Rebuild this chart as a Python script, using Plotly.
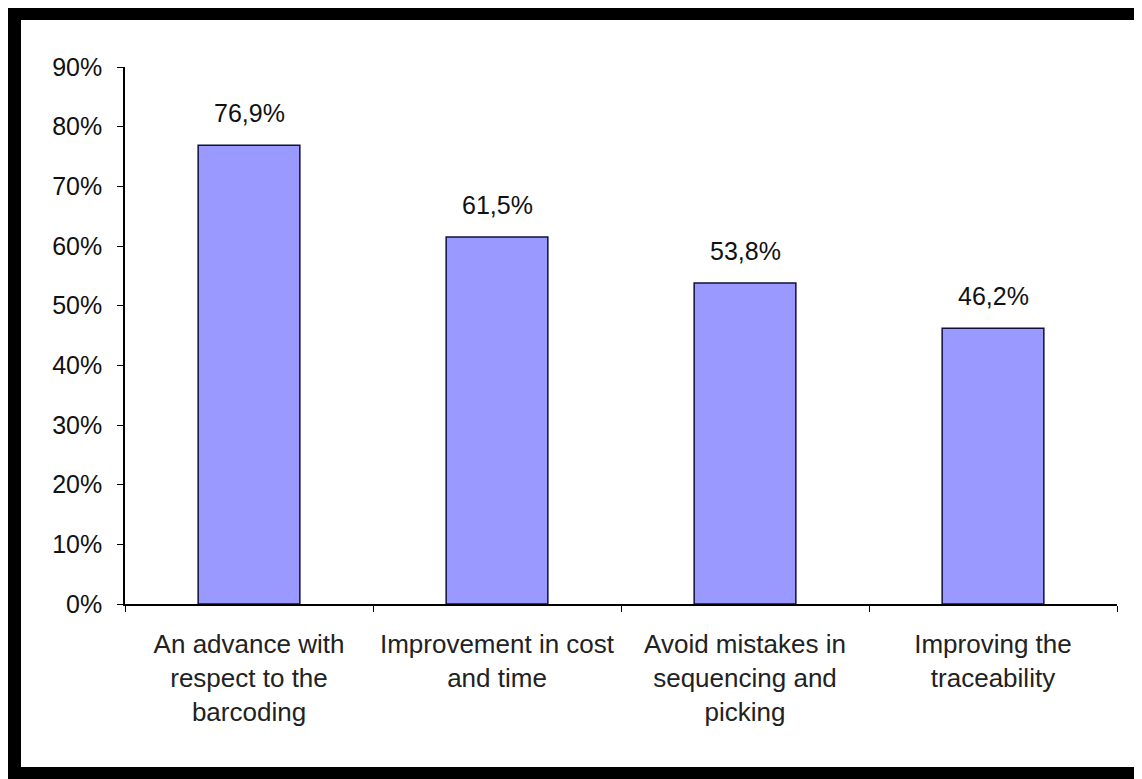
import plotly.graph_objects as go

categories = [
    "An advance with<br>respect to the<br>barcoding",
    "Improvement in cost<br>and time",
    "Avoid mistakes in<br>sequencing and<br>picking",
    "Improving the<br>traceability",
]
values = [76.9, 61.5, 53.8, 46.2]
labels = [f"{v:.1f}%".replace(".", ",") for v in values]

# page is rendered with an 8px body margin; work in page pixels and convert
OFF = 8
W, H = 1142 - OFF, 779 - OFF
L, R, T = 125 - OFF, 1142 - 1117, 67 - OFF
B = H - (604 - OFF)
PW, PH = W - L - R, H - T - B

def px(x):
    return (x - OFF - L) / PW

def py(y):
    return (H - B - (y - OFF)) / PH

FONT = "Liberation Sans, Arial, sans-serif"

fig = go.Figure()
fig.add_trace(go.Bar(
    x=categories, y=values,
    marker=dict(color="#9999FF", line=dict(color="#10103a", width=1.5)),
    width=0.41,
))

for c, v, t in zip(categories, values, labels):
    fig.add_annotation(x=c, y=v, text=t, showarrow=False, yanchor="bottom",
                       yshift=16, font=dict(size=25, color="#111111", family=FONT))

shapes = [
    dict(type="rect", xref="paper", yref="paper", x0=px(0), x1=px(1170), y0=py(800), y1=py(0),
         fillcolor="#000000", line=dict(width=0), layer="below"),
    dict(type="rect", xref="paper", yref="paper", x0=px(21), x1=px(1138), y0=py(767), y1=py(20),
         fillcolor="#FFFFFF", line=dict(width=0), layer="below"),
]

fig.update_layout(
    width=W, height=H,
    margin=dict(l=L, r=R, t=T, b=B, pad=0),
    paper_bgcolor="#000000",
    plot_bgcolor="rgba(0,0,0,0)",
    showlegend=False,
    shapes=shapes,
    font=dict(family=FONT, size=25, color="#111111"),
    bargap=0.59,
)
fig.update_yaxes(range=[0, 90], dtick=10, ticksuffix="%", showgrid=False, zeroline=False,
                 showline=True, linecolor="#000000", linewidth=1.5, ticks="outside", ticklen=6,
                 tickcolor="#000000", ticklabelstandoff=10, tickfont=dict(size=25))
fig.update_xaxes(showgrid=False, showline=True, linecolor="#000000", linewidth=1.5,
                 ticks="outside", ticklen=6, tickcolor="#000000", tickson="boundaries",
                 ticklabelstandoff=16, tickfont=dict(size=26, color="#222222"))

fig.write_html("out.html")
